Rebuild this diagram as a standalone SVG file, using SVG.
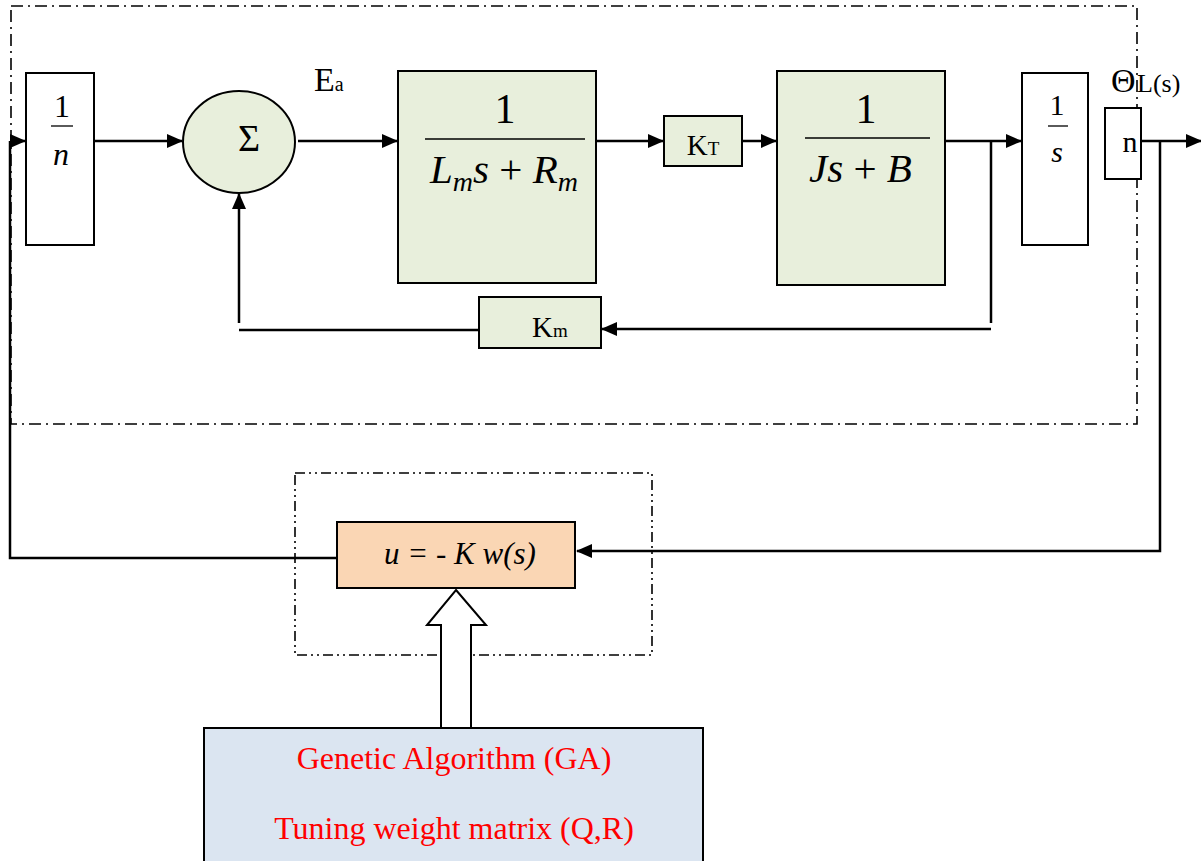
<svg xmlns="http://www.w3.org/2000/svg" width="1201" height="861" viewBox="0 0 1201 861">
<defs>
<style>
.t{font-family:"Liberation Serif","Times New Roman",serif;fill:#000}
.i{font-style:italic}
.box{stroke:#000;stroke-width:2}
.g{fill:#e8efdc}
.w{fill:#fff}
.ln{stroke:#000;stroke-width:2.5;fill:none}
.dd1{stroke:#000;stroke-width:1.6;fill:none;stroke-dasharray:12,5,2,5}
.dd2{stroke:#000;stroke-width:1.6;fill:none;stroke-dasharray:10,4,2,4,2,4}
.red{fill:#ff0000;font-family:"Liberation Serif","Times New Roman",serif;font-size:32px}
</style>
<marker id="ah" markerWidth="16" markerHeight="14" refX="15" refY="7" orient="auto" markerUnits="userSpaceOnUse">
<path d="M0,0 L16,7 L0,14 Z" fill="#000"/>
</marker>
</defs>
<rect width="1201" height="861" fill="#fff"/>

<g id="frames">
<rect class="dd1" x="11" y="6" width="1126" height="418"/>
<rect class="dd2" x="295" y="473" width="357" height="182"/>
</g>

<g id="connectors">
<line class="ln" x1="94" y1="141" x2="182" y2="141" marker-end="url(#ah)"/>
<line class="ln" x1="298" y1="141" x2="397" y2="141" marker-end="url(#ah)"/>
<line class="ln" x1="596" y1="141" x2="663" y2="141" marker-end="url(#ah)"/>
<line class="ln" x1="742" y1="141" x2="776" y2="141" marker-end="url(#ah)"/>
<line class="ln" x1="945" y1="141" x2="1021" y2="141" marker-end="url(#ah)"/>
<line class="ln" x1="991" y1="141" x2="991" y2="323"/>
<line class="ln" x1="991" y1="329" x2="602" y2="329" marker-end="url(#ah)"/>
<line class="ln" x1="479" y1="330" x2="239" y2="330"/>
<line class="ln" x1="239" y1="323" x2="239" y2="194" marker-end="url(#ah)"/>
<line class="ln" x1="1141" y1="141" x2="1201" y2="141" marker-end="url(#ah)"/>
<polyline class="ln" points="1160,141 1160,551 577,551" marker-end="url(#ah)"/>
<polyline class="ln" points="337,558 10,558 10,141"/>
<line class="ln" x1="10" y1="141" x2="25" y2="141" marker-end="url(#ah)"/>
</g>

<g id="n-inv">
<rect class="box w" x="26" y="73" width="68" height="172"/>
<text class="t" x="62" y="117" font-size="32" text-anchor="middle">1</text>
<line x1="51" y1="126" x2="73" y2="126" stroke="#000" stroke-width="1.3"/>
<text class="t i" x="61" y="165" font-size="32" text-anchor="middle">n</text>
</g>

<g id="sum">
<ellipse class="box g" cx="239" cy="142" rx="56" ry="51"/>
<text class="t" x="249" y="151" font-size="38" text-anchor="middle">Σ</text>
</g>

<g id="ea-label">
<text class="t" x="314" y="91" font-size="34">E<tspan font-size="20">a</tspan></text>
</g>

<g id="motor-elec">
<rect class="box g" x="398" y="71" width="198" height="212"/>
<text class="t" x="505" y="123" font-size="42" text-anchor="middle">1</text>
<line x1="425" y1="139" x2="585" y2="139" stroke="#000" stroke-width="1.5"/>
<text class="t i" x="430" y="183" font-size="41">L<tspan font-size="28" dy="8">m</tspan><tspan dy="-8">s</tspan><tspan font-style="normal"> + </tspan>R<tspan font-size="28" dy="8">m</tspan></text>
</g>

<g id="kt">
<rect class="box g" x="664" y="116" width="78" height="50"/>
<text class="t" x="703" y="155" font-size="29" text-anchor="middle">K<tspan font-size="19">T</tspan></text>
</g>

<g id="motor-mech">
<rect class="box g" x="777" y="71" width="168" height="214"/>
<text class="t" x="866" y="123" font-size="42" text-anchor="middle">1</text>
<line x1="805" y1="138" x2="930" y2="138" stroke="#000" stroke-width="1.5"/>
<text class="t i" x="809" y="182" font-size="41">Js<tspan font-style="normal"> + </tspan>B</text>
</g>

<g id="integrator">
<rect class="box w" x="1022" y="73" width="66" height="172"/>
<text class="t" x="1057" y="115" font-size="30" text-anchor="middle">1</text>
<line x1="1048" y1="126" x2="1068" y2="126" stroke="#000" stroke-width="1.3"/>
<text class="t i" x="1057" y="162" font-size="30" text-anchor="middle">s</text>
</g>

<g id="gear">
<rect class="box w" x="1105" y="108" width="36" height="71"/>
<text class="t" x="1130" y="152" font-size="30" text-anchor="middle">n</text>
</g>

<g id="theta-label">
<text class="t" x="1111" y="92" font-size="34">Θ</text>
<text class="t" x="1137" y="92" font-size="26">L(s)</text>
</g>

<g id="km">
<rect class="box g" x="479" y="297" width="122" height="51"/>
<text class="t" x="532" y="337" font-size="29">K<tspan font-size="19">m</tspan></text>
</g>

<g id="controller">
<rect class="box" fill="#fad6b4" x="337" y="522" width="238" height="66"/>
<text class="t i" x="460" y="564" font-size="31" text-anchor="middle">u = - K w(s)</text>
</g>

<g id="hollow-arrow">
<path d="M456,590 L486,625 L471,625 L471,728 L441,728 L441,625 L427,625 Z" fill="#fff" stroke="#000" stroke-width="2"/>
</g>

<g id="ga">
<rect class="box" fill="#dbe5f1" x="204" y="728" width="499" height="140"/>
<text class="red" x="454" y="769" text-anchor="middle">Genetic Algorithm (GA)</text>
<text class="red" x="454" y="839" text-anchor="middle">Tuning weight matrix (Q,R)</text>
</g>
</svg>
